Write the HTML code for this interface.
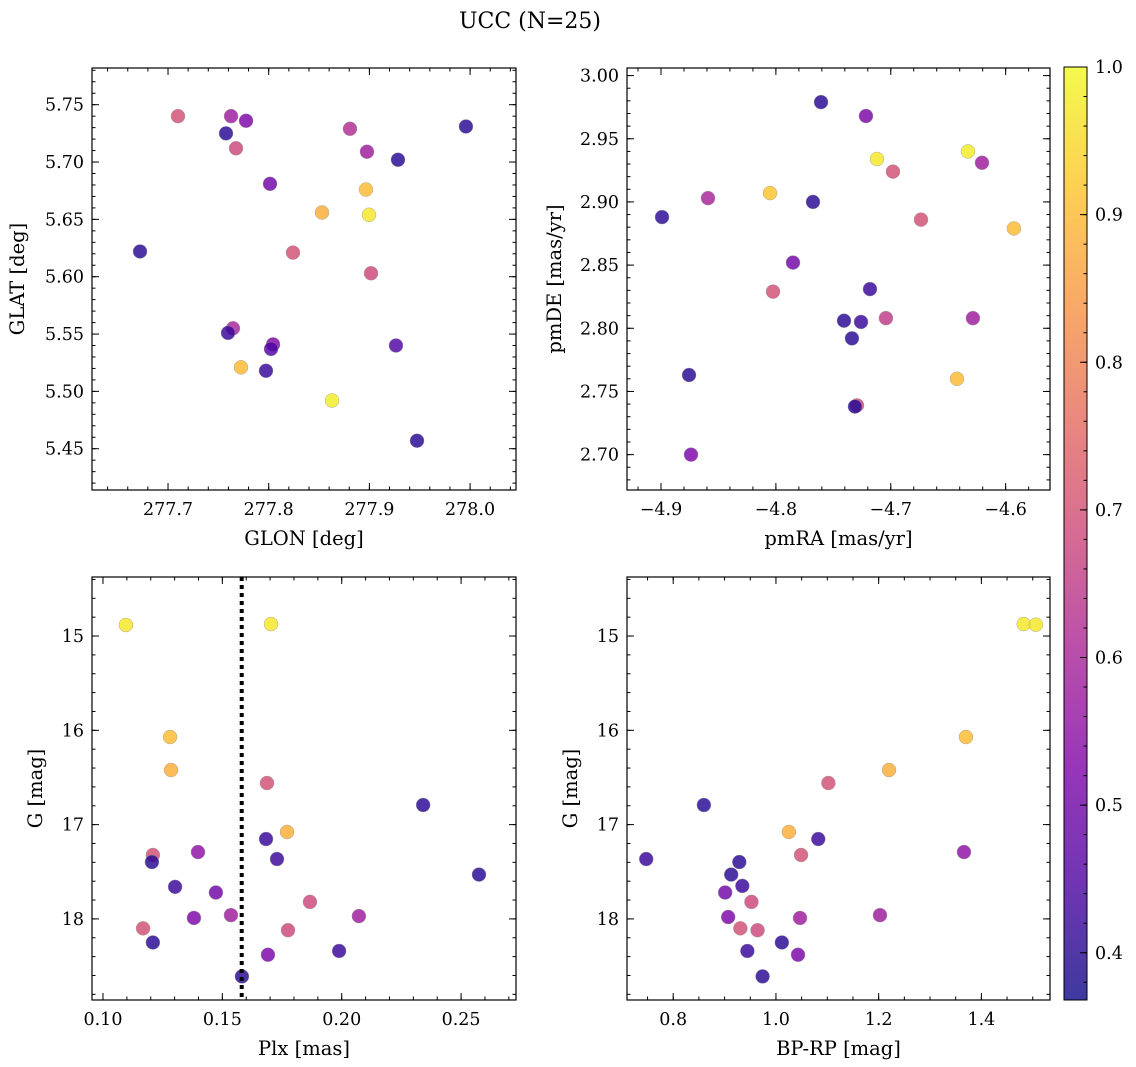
<!DOCTYPE html>
<html><head><meta charset="utf-8"><style>
html,body{margin:0;padding:0;background:#fff;}
svg{display:block;font-family:"DejaVu Serif","Liberation Serif",serif;}
</style></head><body>
<svg id="fig" width="1136" height="1067" viewBox="0 0 1136 1067" xmlns="http://www.w3.org/2000/svg">
<text x="530" y="28" font-size="22" text-anchor="middle">UCC (N=25)</text>
</svg>
<script>
// ---- data ----
const glon=[277.7099,277.7576,277.7626,277.7775,277.7675,277.8013,277.8807,277.8976,277.9284,277.9959,277.8966,277.8529,277.8996,277.6722,277.8241,277.9016,277.7645,277.7596,277.8043,277.8023,277.9264,277.7725,277.7973,277.8629,277.9473];
const glat=[5.740,5.725,5.740,5.736,5.712,5.681,5.729,5.709,5.702,5.731,5.676,5.656,5.654,5.622,5.621,5.603,5.555,5.551,5.541,5.537,5.540,5.521,5.518,5.492,5.457];
const prob1=[0.70,0.40,0.58,0.52,0.68,0.50,0.62,0.58,0.40,0.40,0.90,0.88,0.97,0.40,0.70,0.68,0.60,0.42,0.52,0.45,0.45,0.90,0.42,0.98,0.40];
const pmra=[-4.7607,-4.7216,-4.7120,-4.6328,-4.6206,-4.6981,-4.8051,-4.8591,-4.7677,-4.8991,-4.6737,-4.5928,-4.7851,-4.8025,-4.7181,-4.7407,-4.7259,-4.7042,-4.6285,-4.7338,-4.8756,-4.6424,-4.7294,-4.7312,-4.8739];
const pmde=[2.979,2.968,2.934,2.940,2.931,2.924,2.907,2.903,2.900,2.888,2.886,2.879,2.852,2.829,2.831,2.806,2.805,2.808,2.808,2.792,2.763,2.760,2.739,2.738,2.700];
const prob2=[0.40,0.52,0.97,0.98,0.58,0.70,0.92,0.60,0.40,0.40,0.70,0.90,0.50,0.70,0.42,0.40,0.42,0.65,0.58,0.40,0.40,0.90,0.68,0.40,0.52];
const plx=[0.1096,0.1704,0.1281,0.1285,0.1687,0.2341,0.1771,0.1209,0.1398,0.1683,0.1729,0.1205,0.2575,0.1302,0.1473,0.1867,0.1381,0.1536,0.2072,0.1168,0.1775,0.1209,0.1989,0.1691,0.1582];
const gmag3=[14.883,14.873,16.071,16.421,16.559,16.792,17.078,17.322,17.291,17.153,17.365,17.397,17.53,17.66,17.72,17.82,17.99,17.96,17.97,18.10,18.12,18.25,18.34,18.38,18.61];
const prob3=[0.97,0.97,0.90,0.88,0.70,0.40,0.88,0.70,0.55,0.42,0.42,0.40,0.40,0.42,0.50,0.68,0.52,0.58,0.58,0.70,0.68,0.40,0.42,0.52,0.40];
const plxLine=0.1581;
const bprp=[1.4824,1.5060,1.3700,1.2202,1.1021,0.8597,1.0252,1.0824,1.3661,1.0489,0.7474,0.9287,0.9129,0.9346,0.9011,0.9523,1.2026,0.9070,1.0469,0.9307,0.9642,1.0115,0.9444,1.0430,0.9740];
const gmag4=[14.873,14.88,16.071,16.421,16.559,16.792,17.078,17.153,17.291,17.322,17.365,17.397,17.53,17.65,17.72,17.82,17.96,17.98,17.99,18.10,18.12,18.25,18.34,18.38,18.61];
const prob4=[0.97,0.97,0.90,0.88,0.70,0.40,0.88,0.42,0.55,0.70,0.42,0.40,0.40,0.42,0.50,0.68,0.58,0.52,0.58,0.70,0.68,0.40,0.42,0.52,0.40];
const cbTicks=[0.4,0.5,0.6,0.7,0.8,0.9,1.0];
const cMin=0.368,cMax=1.0;

const NS="http://www.w3.org/2000/svg";
const svg=document.getElementById('fig');
const TFS=17.5, LFS=19.5;
function el(tag,attrs,parent){const e=document.createElementNS(NS,tag);for(const k in attrs)e.setAttribute(k,attrs[k]);(parent||svg).appendChild(e);return e;}
const stops=[[0,[13,8,135]],[0.125,[76,2,161]],[0.25,[126,3,168]],[0.375,[169,35,149]],[0.5,[204,71,120]],[0.625,[229,107,93]],[0.75,[248,149,64]],[0.875,[253,197,39]],[1,[240,249,33]]];
function plasma(t){t=Math.max(0,Math.min(1,t));for(let i=1;i<stops.length;i++){if(t<=stops[i][0]){const a=stops[i-1],b=stops[i];const f=(t-a[0])/(b[0]-a[0]);const c=a[1].map((v,j)=>Math.round(v+(b[1][j]-v)*f));return `rgb(${c.join(',')})`;}}return 'rgb(240,249,33)';}
function fmt(v,d){let s=v.toFixed(d);if(v<0)s='\u2212'+s.slice(1);return s;}

function panel(o){
  const {name,x0,y0,x1,y1,xmin,xmax,ymin,ymax,invY,xt,yt,xd,yd,xminor,yminor,xlabel,ylabel,xs,ys,cs}=o;
  const g=el('g',{});
  
  
  const sx=v=>x0+(v-xmin)/(xmax-xmin)*(x1-x0);
  const sy=invY?(v=>y0+(v-ymin)/(ymax-ymin)*(y1-y0)):(v=>y1-(v-ymin)/(ymax-ymin)*(y1-y0));
  const tg=el('g',{stroke:'#000','stroke-width':1},g);
  function ticks(vals,len,isX,withLabel,dec){
    for(const v of vals){
      if(isX){const p=sx(v);if(p<x0-0.5||p>x1+0.5)continue;
        el('line',{x1:p,y1:y1,x2:p,y2:y1-len},tg);el('line',{x1:p,y1:y0,x2:p,y2:y0+len},tg);
        if(withLabel){const t=el('text',{x:p,y:y1+25,'font-size':TFS,'text-anchor':'middle',stroke:'none',fill:'#000'},g);t.textContent=fmt(v,dec);}
      }else{const p=sy(v);if(p<y0-0.5||p>y1+0.5)continue;
        el('line',{x1:x0,y1:p,x2:x0+len,y2:p},tg);el('line',{x1:x1,y1:p,x2:x1-len,y2:p},tg);
        if(withLabel){const t=el('text',{x:x0-8,y:p+6,'font-size':TFS,'text-anchor':'end',stroke:'none',fill:'#000'},g);t.textContent=fmt(v,dec);}
      }
    }
  }
  const mk=(a,b,s)=>{const r=[];for(let v=Math.ceil(a/s-1e-9)*s;v<=b+1e-9;v+=s)r.push(+v.toFixed(6));return r;};
  ticks(mk(xmin,xmax,xminor),3.5,true,false);
  ticks(mk(ymin,ymax,yminor),3.5,false,false);
  ticks(xt,7,true,true,xd);
  ticks(yt,7,false,true,yd);
  for(let i=0;i<xs.length;i++){
    const c=el('circle',{cx:sx(xs[i]),cy:sy(ys[i]),r:7,fill:plasma((cs[i]-cMin)/(cMax-cMin)),'fill-opacity':0.82,stroke:'#999','stroke-width':0.4},g);
    
    
  }
  if(o.vline!==undefined){const l=el('line',{x1:sx(o.vline),x2:sx(o.vline),y1:y0,y2:y1,stroke:'#000','stroke-width':4,'stroke-dasharray':'4,4'},g);
    }
  const fr=el('rect',{x:x0,y:y0,width:x1-x0,height:y1-y0,fill:'none',stroke:'#000','stroke-width':1.2},g);
  
  const xl=el('text',{x:(x0+x1)/2,y:y1+55,'font-size':LFS,'text-anchor':'middle'},g);xl.textContent=xlabel;
  
  const cy=(y0+y1)/2;const yl=el('text',{x:0,y:0,'font-size':LFS,'text-anchor':'middle',transform:`translate(${o.ylx},${cy}) rotate(-90)`},g);yl.textContent=ylabel;
  
}
panel({name:'glon-glat-panel',x0:92,y0:68,x1:516,y1:490,xmin:277.6245,xmax:278.0456,ymin:5.414,ymax:5.782,xt:[277.7,277.8,277.9,278.0],xd:1,yt:[5.45,5.5,5.55,5.6,5.65,5.7,5.75],yd:2,xminor:0.02,yminor:0.01,xlabel:'GLON [deg]',ylabel:'GLAT [deg]',ylx:24,xs:glon,ys:glat,cs:prob1});
panel({name:'pm-panel',x0:627,y0:68,x1:1050,y1:490,xmin:-4.9296,xmax:-4.5614,ymin:2.672,ymax:3.006,xt:[-4.9,-4.8,-4.7,-4.6],xd:1,yt:[2.7,2.75,2.8,2.85,2.9,2.95,3.0],yd:2,xminor:0.02,yminor:0.01,xlabel:'pmRA [mas/yr]',ylabel:'pmDE [mas/yr]',ylx:561,xs:pmra,ys:pmde,cs:prob2});
panel({name:'plx-g-panel',x0:92,y0:577,x1:516,y1:1000,xmin:0.0954,xmax:0.2730,ymin:14.374,ymax:18.860,invY:true,xt:[0.1,0.15,0.2,0.25],xd:2,yt:[15,16,17,18],yd:0,xminor:0.01,yminor:0.2,xlabel:'Plx [mas]',ylabel:'G [mag]',ylx:42,xs:plx,ys:gmag3,cs:prob3,vline:plxLine});
panel({name:'color-g-panel',x0:627,y0:577,x1:1050,y1:1000,xmin:0.710,xmax:1.5336,ymin:14.374,ymax:18.860,invY:true,xt:[0.8,1.0,1.2,1.4],xd:1,yt:[15,16,17,18],yd:0,xminor:0.05,yminor:0.2,xlabel:'BP-RP [mag]',ylabel:'G [mag]',ylx:577,xs:bprp,ys:gmag4,cs:prob4});

// colorbar
const defs=el('defs',{});
const lg=el('linearGradient',{id:'plasma',x1:0,y1:1,x2:0,y2:0},defs);
for(const s of stops){el('stop',{offset:s[0],'stop-color':`rgb(${s[1].join(',')})`},lg);}
const cb=el('g',{});


const cbx0=1064,cbx1=1087,cby0=67,cby1=1000;
el('rect',{x:cbx0,y:cby0,width:cbx1-cbx0,height:cby1-cby0,fill:'url(#plasma)','fill-opacity':0.8},cb);
el('rect',{x:cbx0,y:cby0,width:cbx1-cbx0,height:cby1-cby0,fill:'none',stroke:'#000','stroke-width':1},cb);
const cys=v=>cby1-(v-cMin)/(cMax-cMin)*(cby1-cby0);
for(let v=0.38;v<=1.0001;v+=0.02){const p=cys(v);el('line',{x1:cbx1,x2:cbx1-3.5,y1:p,y2:p,stroke:'#000'},cb);}
for(const v of cbTicks){const p=cys(v);el('line',{x1:cbx1,x2:cbx1-7,y1:p,y2:p,stroke:'#000'},cb);
  const t=el('text',{x:cbx1+8,y:p+6,'font-size':TFS},cb);t.textContent=v.toFixed(1);
  }
</script>
</body></html>
